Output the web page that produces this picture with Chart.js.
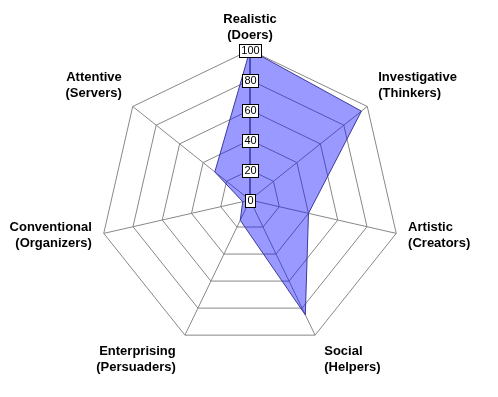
<!DOCTYPE html>
<html>
<head>
<meta charset="utf-8">
<script src="https://cdn.jsdelivr.net/npm/chart.js@4/dist/chart.umd.min.js"></script>
<style>
  body { margin: 0; background: #fff; }
  #chart { display: block; }
</style>
</head>
<body>
<canvas id="chart" width="498" height="397"></canvas>
<script>
const categories = [
  ['Realistic', '(Doers)'],
  ['Investigative', '(Thinkers)'],
  ['Artistic', '(Creators)'],
  ['Social', '(Helpers)'],
  ['Enterprising', '(Persuaders)'],
  ['Conventional', '(Organizers)'],
  ['Attentive', '(Servers)']
];
const scores = [100, 95, 40, 85, 15, 5, 30];
const tickValues = [0, 20, 40, 60, 80, 100];

// labels round the outside plus the boxed tick numbers on the first axis
const radarText = {
  id: 'radarText',
  afterDraw(chart) {
    const ctx = chart.ctx;
    const scale = chart.scales.r;
    const outer = scale.getDistanceFromCenterForValue(scale.max);

    ctx.save();
    ctx.font = 'bold 13px "Liberation Sans", Arial, sans-serif';
    ctx.fillStyle = '#000';
    ctx.textBaseline = 'middle';
    const lineH = 16;
    chart.data.labels.forEach((lines, i) => {
      const angle = scale.getIndexAngle(i);
      const s = Math.sin(angle), c = Math.cos(angle);
      const p = scale.getPointPosition(i, outer);
      const h = lines.length * lineH;
      let x = p.x, top;
      if (Math.abs(s) < 0.1) {
        ctx.textAlign = 'center';
      } else if (s > 0) {
        ctx.textAlign = 'left';
        x = p.x + 7 + 5 * s;
      } else {
        ctx.textAlign = 'right';
        x = p.x - 7 + 5 * s;
      }
      if (c > 0.9) top = p.y - 7 - h;
      else if (c > 0.3) top = p.y - 5 - h;
      else if (c < -0.3) top = p.y + 8;
      else top = p.y - h / 2 + 2;
      lines.forEach((t, j) => ctx.fillText(t, x, top + lineH * j + lineH / 2));
    });

    ctx.font = '11px "Liberation Sans", Arial, sans-serif';
    ctx.textAlign = 'center';
    ctx.lineWidth = 1;
    ctx.strokeStyle = '#000';
    tickValues.forEach(v => {
      const y = scale.yCenter - scale.getDistanceFromCenterForValue(v);
      const x = scale.xCenter;
      const label = String(v);
      const w = Math.round(ctx.measureText(label).width) + 4;
      const bx = Math.round(x - w / 2) + 0.5;
      const by = Math.round(y - 6.5) + 0.5;
      ctx.fillStyle = '#fff';
      ctx.fillRect(bx, by, w, 13);
      ctx.strokeRect(bx, by, w, 13);
      ctx.fillStyle = '#000';
      ctx.fillText(label, x + 0.5, y + 1);
    });
    ctx.restore();
  }
};

new Chart(document.getElementById('chart'), {
  type: 'radar',
  data: {
    labels: categories,
    datasets: [{
      data: scores,
      fill: true,
      backgroundColor: 'rgba(0, 0, 255, 0.4)',
      borderColor: '#3a3a9a',
      borderWidth: 1,
      pointRadius: 0,
      pointHoverRadius: 0
    }]
  },
  options: {
    responsive: false,
    animation: false,
    layout: { padding: { left: 2, right: 0, top: 50, bottom: 47 } },
    plugins: {
      legend: { display: false },
      tooltip: { enabled: false }
    },
    scales: {
      r: {
        min: 0,
        max: 100,
        ticks: { stepSize: 20, display: false },
        pointLabels: { display: false },
        grid: { color: '#888', lineWidth: 1 },
        angleLines: {
          color: ctx => ctx.index === 0 ? '#000' : '#888',
          lineWidth: 1
        }
      }
    }
  },
  plugins: [radarText]
});
</script>
</body>
</html>
